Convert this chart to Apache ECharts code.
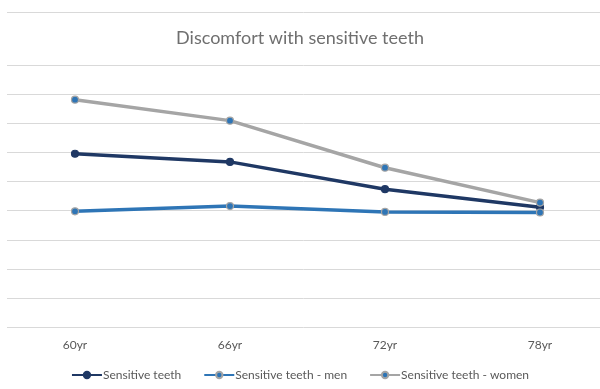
<!DOCTYPE html>
<html>
<head>
<meta charset="utf-8">
<script src="https://cdn.jsdelivr.net/npm/echarts@6/dist/echarts.min.js"></script>
<style>
  html, body { margin: 0; padding: 0; background: #ffffff; }
  #chart { width: 600px; height: 389px; }
</style>
</head>
<body>
<div id="chart"></div>
<script>
// Age groups along the horizontal axis
var ages = ['60yr', '66yr', '72yr', '78yr'];

// Share reporting discomfort (%)
var sensitiveAll = [29.8, 28.4, 23.7, 20.6];
var sensitiveMen = [19.9, 20.8, 19.8, 19.7];
var sensitiveWomen = [39.1, 35.5, 27.4, 21.4];

var seriesNames = ['Sensitive teeth', 'Sensitive teeth - men', 'Sensitive teeth - women'];

var yMin = 0, yMax = 45, yStep = 5;

var navy = '#1f3864';
var blue = '#2e75b6';
var grey = '#a5a5a5';
var font = 'Lato, "Open Sans", sans-serif';

var chart = echarts.init(document.getElementById('chart'), null, { renderer: 'canvas' });

function lineSeries(name, data, lineColor, fill, border) {
  return {
    name: name,
    type: 'line',
    data: data,
    xAxisIndex: 0,
    yAxisIndex: 0,
    symbol: 'circle',
    symbolSize: 7,
    lineStyle: { color: lineColor, width: 3.5 },
    itemStyle: { color: fill, borderColor: border, borderWidth: 1.2 },
    emphasis: { disabled: true },
    z: 3
  };
}

chart.setOption({
  backgroundColor: '#ffffff',
  animation: false,
  title: {
    text: 'Discomfort with sensitive teeth',
    left: 'center',
    top: 24,
    textStyle: { color: '#6f6f6f', fontSize: 18, fontWeight: 'normal', fontFamily: font }
  },
  legend: {
    bottom: 3,
    left: 'center',
    itemWidth: 30,
    itemHeight: 8,
    itemGap: 22,
    data: seriesNames,
    textStyle: { color: '#595959', fontSize: 12, fontFamily: font, padding: [0, 0, 0, -4] }
  },
  grid: [
    // plotting grid: category centres run from the first to the last age group
    { left: 75, right: 60, top: 65.4, bottom: 62, containLabel: false },
    // background grid carrying the horizontal rules across the full width
    { left: 7, right: 0, top: 65.4, bottom: 62, containLabel: false }
  ],
  xAxis: [
    {
      type: 'category', gridIndex: 0, data: ages, boundaryGap: false,
      axisLine: { show: false }, axisTick: { show: false },
      axisLabel: { color: '#595959', fontSize: 12, fontFamily: font, margin: 12 },
      splitLine: { show: false }
    },
    {
      type: 'category', gridIndex: 1, data: ages, show: false
    }
  ],
  yAxis: [
    {
      type: 'value', gridIndex: 0, min: yMin, max: yMax, interval: yStep,
      show: false, splitLine: { show: false }
    },
    {
      type: 'value', gridIndex: 1, min: yMin, max: yMax, interval: yStep,
      axisLine: { show: false }, axisTick: { show: false }, axisLabel: { show: false },
      splitLine: { show: true, lineStyle: { color: '#d9d9d9', width: 1 } }
    }
  ],
  graphic: [
    {
      type: 'line',
      shape: { x1: 7, y1: 12.5, x2: 600, y2: 12.5 },
      style: { stroke: '#d9d9d9', lineWidth: 1 },
      silent: true
    }
  ],
  series: [
    lineSeries(seriesNames[0], sensitiveAll, navy, navy, navy),
    lineSeries(seriesNames[1], sensitiveMen, blue, blue, '#a5a5a5'),
    lineSeries(seriesNames[2], sensitiveWomen, grey, blue, '#a5a5a5')
  ]
});
</script>
</body>
</html>
